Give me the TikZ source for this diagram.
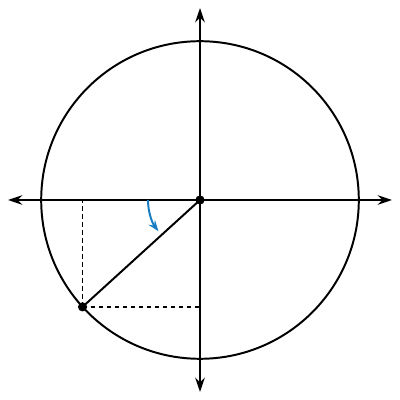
\documentclass[tikz,border=0pt]{standalone}
\usepackage{tikz}
\usepackage{color}
\usetikzlibrary{arrows.meta}
\definecolor{anglecol}{RGB}{25,125,195}

\begin{document}
\begin{tikzpicture}[line width=1.4pt, >={Stealth[length=0.36cm,width=0.24cm,inset=0.12cm]},
    dot/.style={circle, fill=black, inner sep=0pt, minimum size=0.23cm}]
    \useasboundingbox (-5,-5) rectangle (5,5);

    \node[dot] (o) at (0,0) {};
    \node[dot] (p) at (222.3:3.97) {};
    \coordinate (xl) at (-4.8,0);
    \coordinate (xr) at (4.8,0);
    \coordinate (yb) at (0,-4.8);
    \coordinate (yt) at (0,4.8);
    \coordinate (arcstart) at (180:1.3);

    \draw (o.center) circle (3.97);
    \path[<->]  (xl) edge (xr);
    \path[<->]  (yb) edge (yt);

    \path[dashed, line width=1.1pt, dash pattern=on 0.12cm off 0.08cm]  (p.center) edge (p.center |- o.center);
    \path[dashed, line width=1.1pt, dash pattern=on 0.12cm off 0.08cm]  (p.center) edge (p.center -| o.center);
    \path  (o.center) edge (p.center);

    \draw[->, color=anglecol, >={Stealth[length=0.28cm,width=0.2cm,inset=0.1cm]}] (arcstart) arc (180:217:1.3);

    \end{tikzpicture}
\end{document}
